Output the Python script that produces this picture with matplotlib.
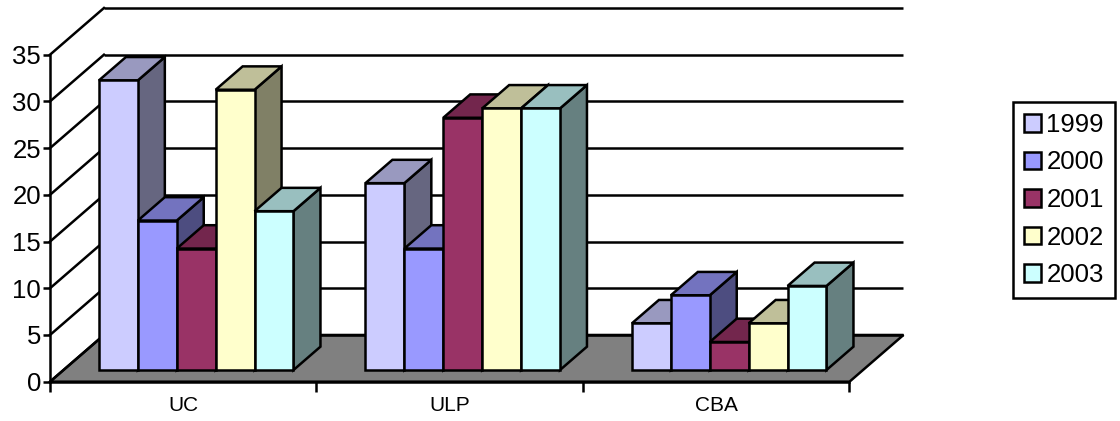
import matplotlib
matplotlib.use('Agg')
import matplotlib.pyplot as plt
from matplotlib.patches import Patch
import numpy as np

plt.rcParams['font.family'] = ['Liberation Sans', 'DejaVu Sans']

categories = ['UC', 'ULP', 'CBA']
years = ['1999', '2000', '2001', '2002', '2003']
v1999 = [31, 20, 5]
v2000 = [16, 13, 8]
v2001 = [13, 27, 3]
v2002 = [30, 28, 5]
v2003 = [17, 28, 9]
colors = ['#CCCCFF', '#9999FF', '#993366', '#FFFFCC', '#CCFFFF']
series = [v1999, v2000, v2001, v2002, v2003]

# full depth of the fake 3d box, in data units
depth_x = 54 / 266.67
depth_y = 5.0
bar_w = 0.146
lw = 1.8


def shade(c, f):
    r, g, b = matplotlib.colors.to_rgb(c)
    return (r * f, g * f, b * f)


W, H = 1120, 421
fig = plt.figure(figsize=(W / 100, H / 100), dpi=100)
ax = fig.add_axes([50 / W, 1 - 381.7 / H, 799.5 / W, 327 / H])
ax.set_xlim(0, 3)
ax.set_ylim(0, 35)
ax.patch.set_visible(False)
for s in ['top', 'right']:
    ax.spines[s].set_visible(False)
for s in ['left', 'bottom']:
    ax.spines[s].set_linewidth(lw)
    ax.spines[s].set_zorder(20)

ax.set_yticks(np.arange(0, 36, 5))
ax.tick_params(axis='y', labelsize=18.5, length=5, width=lw, pad=1.5)
ax.set_xticks([0, 1, 2, 3])
ax.set_xticklabels([])
ax.set_xticks([0.5, 1.5, 2.5], minor=True)
ax.set_xticklabels(categories, minor=True, fontsize=15)
ax.tick_params(axis='x', which='major', length=7, width=lw)
ax.tick_params(axis='x', which='minor', length=0, pad=10.5)

# floor
ax.fill([0, depth_x, 3 + depth_x, 3], [0, depth_y, depth_y, 0], fc='#808080',
        ec='black', lw=lw, clip_on=False, zorder=1)

# back wall lines and left wall diagonals
for t in np.arange(0, 36, 5):
    ax.plot([depth_x, 3 + depth_x], [t + depth_y, t + depth_y], color='black', lw=lw,
            clip_on=False, zorder=2, solid_capstyle='butt')
    ax.plot([0, depth_x], [t, t + depth_y], color='black', lw=lw, clip_on=False, zorder=2)

# bars, left to right so that each one covers the side of the one before
z = 3
for c in range(len(categories)):
    start = c + 0.5 - bar_w * len(series) / 2 + 0.25 * depth_x - 0.002
    for i in range(len(series)):
        x0 = start + i * bar_w
        x1 = x0 + bar_w
        y0 = 0.25 * depth_y
        y1 = series[i][c] + y0
        dx = 0.5 * depth_x
        dy = 0.5 * depth_y
        col = colors[i]
        ax.fill([x1, x1 + dx, x1 + dx, x1], [y0, y0 + dy, y1 + dy, y1], fc=shade(col, 0.5),
                ec='black', lw=lw, clip_on=False, zorder=z, joinstyle='miter')
        ax.fill([x0, x1, x1 + dx, x0 + dx], [y1, y1, y1 + dy, y1 + dy], fc=shade(col, 0.75),
                ec='black', lw=lw, clip_on=False, zorder=z, joinstyle='miter')
        ax.fill([x0, x1, x1, x0], [y0, y0, y1, y1], fc=col,
                ec='black', lw=lw, clip_on=False, zorder=z, joinstyle='miter')
        z += 1

handles = [Patch(fc=colors[i], ec='black', lw=lw, label=years[i]) for i in range(len(years))]
leg = fig.legend(handles=handles, loc='upper left', bbox_to_anchor=(1013 / W, 1 - 102 / H),
                 bbox_transform=fig.transFigure, fontsize=18.5, fancybox=False, framealpha=1,
                 edgecolor='black', borderaxespad=0, borderpad=0.42, labelspacing=0.53,
                 handlelength=0.68, handleheight=0.68, handletextpad=0.2)
leg.get_frame().set_linewidth(lw)

fig.savefig('out.png', dpi=100)
